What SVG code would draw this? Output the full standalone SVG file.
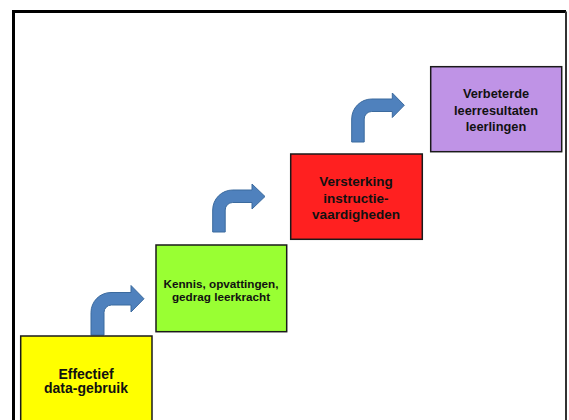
<svg xmlns="http://www.w3.org/2000/svg" width="569" height="420" viewBox="0 0 569 420">
<style>
.box{stroke:#1a1a1a;stroke-width:1.5}
.lbl{font-family:"Liberation Sans",Arial,sans-serif;font-weight:bold;fill:#111;text-anchor:middle}
.arrow{fill:#4F81BD;stroke:#3B6A9E;stroke-width:1}
</style>
<rect width="569" height="420" fill="#ffffff"/>
<g id="frame">
<path d="M13.5 422 V11.5 H566" fill="none" stroke="#000" stroke-width="3"/>
<path d="M566 11.5 V422" fill="none" stroke="#333" stroke-width="2"/>
</g>
<g id="connectors">
<path class="arrow" d="M91 335 V312.5 A20 20 0 0 1 111 292.5 H131 V285.5 L144 298.75 L131 312 V305 H111.5 A7.5 7.5 0 0 0 104 312.5 V335 Z"/>
<path class="arrow" d="M212.7 232 V210 A20 20 0 0 1 232.7 190 H252 V184 L265 196.5 L252 209 V202.5 H232.7 A7.5 7.5 0 0 0 225.2 210 V232 Z"/>
<path class="arrow" d="M351.7 142 V119 A20 20 0 0 1 371.7 99 H392.3 V93 L404.3 105.25 L392.3 117.5 V111.5 H371.7 A7.5 7.5 0 0 0 364.2 119 V142 Z"/>
</g>
<g id="node1">
<rect class="box" x="20.7" y="336" width="131.3" height="90" fill="#FFFF00"/>
<text class="lbl" x="86" y="378.5" font-size="14">Effectief</text>
<text class="lbl" x="86" y="393" font-size="14">data-gebruik</text>
</g>
<g id="node2">
<rect class="box" x="156" y="245" width="130.7" height="86.7" fill="#99FF33"/>
<text class="lbl" x="221" y="287.7" font-size="11.7">Kennis, opvattingen,</text>
<text class="lbl" x="221" y="301.3" font-size="11.7">gedrag leerkracht</text>
</g>
<g id="node3">
<rect class="box" x="290.7" y="154" width="131.6" height="85.3" fill="#FF2020" stroke="#5a0d0d"/>
<text class="lbl" x="356" y="186" font-size="13.5">Versterking</text>
<text class="lbl" x="356" y="202.5" font-size="13.5">instructie-</text>
<text class="lbl" x="356" y="219" font-size="13.5">vaardigheden</text>
</g>
<g id="node4">
<rect class="box" x="430.7" y="66.7" width="131" height="85" fill="#BF93E6"/>
<text class="lbl" x="496" y="98.3" font-size="12.8">Verbeterde</text>
<text class="lbl" x="496" y="114.5" font-size="12.8">leerresultaten</text>
<text class="lbl" x="496" y="130.5" font-size="12.8">leerlingen</text>
</g>
</svg>
